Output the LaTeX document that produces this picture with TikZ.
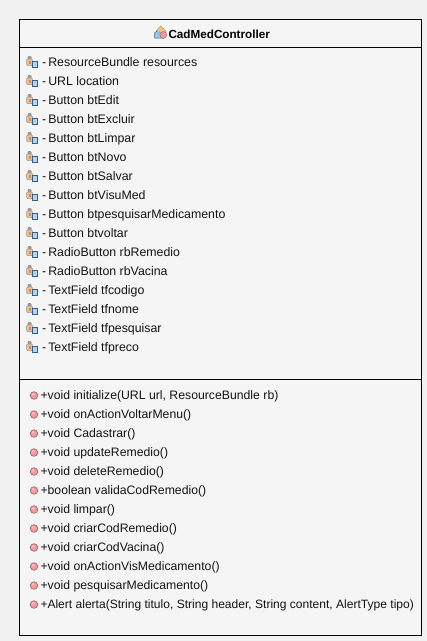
\documentclass[tikz,border=0pt]{standalone}
\usepackage{fontspec}
\setmainfont{Liberation Sans}
\definecolor{pagebg}{HTML}{F1F1F1}
\definecolor{boxbg}{HTML}{F5F5F5}
\definecolor{fieldgold}{HTML}{E3C193}
\definecolor{fieldface}{HTML}{E08A55}
\definecolor{fieldgrey}{HTML}{9A9A9A}
\definecolor{fieldblue}{HTML}{B5D3EE}
\definecolor{fieldedge}{HTML}{2F5F8F}
\definecolor{methred}{HTML}{F09A9A}
\definecolor{methedge}{HTML}{A86A6A}
\definecolor{classgold}{HTML}{EBC27A}
\definecolor{classblue}{HTML}{9CC2E6}
\tikzset{
  x=1pt,y=-1pt,
  umlbox/.style={draw=black,fill=boxbg,line width=1pt},
  umlrule/.style={draw=black,line width=1pt},
  fieldtext/.style={anchor=base west,inner sep=0pt,outer sep=0pt,font=\fontsize{12.35}{13}\selectfont,text=black!92},
  methodtext/.style={anchor=base west,inner sep=0pt,outer sep=0pt,font=\fontsize{12.25}{13}\selectfont,text=black!92},
  longtext/.style={methodtext,font=\fontsize{12.05}{13}\selectfont},
  title/.style={anchor=base west,inner sep=0pt,outer sep=0pt,font=\fontsize{11.7}{13}\selectfont\bfseries,text=black},
  fieldicon/.pic={
    \fill[fieldgrey,rounded corners=1pt] (-4.5,-6) rectangle (-.5,-2.5);
    \fill[fieldgold,draw=fieldgrey,line width=.5pt,rounded corners=1pt] (-5.5,-3) rectangle (0.5,3.5);
    \fill[fieldface] (-3.5,-1.5) rectangle (-1.2,1.5);
    \fill[fieldblue,draw=fieldedge,line width=.8pt] (0,-.5) rectangle (5.5,5.5);
  },
  methodicon/.pic={
    \fill[methred,draw=methedge,line width=.7pt] (0,0) circle (3.8);
    \fill[white,opacity=.4] (-.8,-1.2) circle (1.5);
  },
  classicon/.pic={
    \fill[classblue,draw=fieldedge,line width=.5pt] (-6,6) -- (-6,1) -- (-1.5,-3) -- (3,6) -- cycle;
    \fill[classgold,draw=fieldgrey,line width=.4pt] (-4,-1.5) -- (0,-6) -- (5.5,-1) -- (2,2.5) -- cycle;
    \fill[methred,draw=methedge,line width=.5pt] (2.8,3) circle (3.4);
  }
}
\newcommand{\fieldrow}[3]{%
  \pic at (32,#1) {fieldicon};
  \node[fieldtext] (#2) at (42,#1+4.6) {-\kern2.2pt #3};
}
\newcommand{\methodrow}[4][methodtext]{%
  \pic at (34,#2+0.5) {methodicon};
  \node[#1] (#3) at (40.5,#2+4.6) {#4};
}
\begin{document}
\begin{tikzpicture}
\useasboundingbox (0,0) rectangle (427,641);
\fill[pagebg] (0,0) rectangle (427,641);
\path[umlbox] (19.5,19.5) rectangle (421.5,635.5);
\draw[umlrule] (19.5,47.5) -- (421.5,47.5);
\draw[umlrule] (19.5,379.5) -- (421.5,379.5);
\pic at (160.5,32) {classicon};
\node[title] (classname) at (168.5,38) {CadMedController};
\fieldrow{62}{f1}{ResourceBundle resources}
\fieldrow{81}{f2}{URL location}
\fieldrow{100}{f3}{Button btEdit}
\fieldrow{119}{f4}{Button btExcluir}
\fieldrow{138}{f5}{Button btLimpar}
\fieldrow{157}{f6}{Button btNovo}
\fieldrow{176}{f7}{Button btSalvar}
\fieldrow{195}{f8}{Button btVisuMed}
\fieldrow{214}{f9}{Button btpesquisarMedicamento}
\fieldrow{233}{f10}{Button btvoltar}
\fieldrow{252}{f11}{RadioButton rbRemedio}
\fieldrow{271}{f12}{RadioButton rbVacina}
\fieldrow{290}{f13}{TextField tfcodigo}
\fieldrow{309}{f14}{TextField tfnome}
\fieldrow{328}{f15}{TextField tfpesquisar}
\fieldrow{347}{f16}{TextField tfpreco}
\methodrow{395}{m1}{+void initialize(URL url, ResourceBundle rb)}
\methodrow{414}{m2}{+void onActionVoltarMenu()}
\methodrow{433}{m3}{+void Cadastrar()}
\methodrow{452}{m4}{+void updateRemedio()}
\methodrow{471}{m5}{+void deleteRemedio()}
\methodrow{490}{m6}{+boolean validaCodRemedio()}
\methodrow{509}{m7}{+void limpar()}
\methodrow{528}{m8}{+void criarCodRemedio()}
\methodrow{547}{m9}{+void criarCodVacina()}
\methodrow{566}{m10}{+void onActionVisMedicamento()}
\methodrow{585}{m11}{+void pesquisarMedicamento()}
\methodrow[longtext]{604}{m12}{+Alert alerta(String titulo, String header, String content, AlertType tipo)}
\end{tikzpicture}
\end{document}
